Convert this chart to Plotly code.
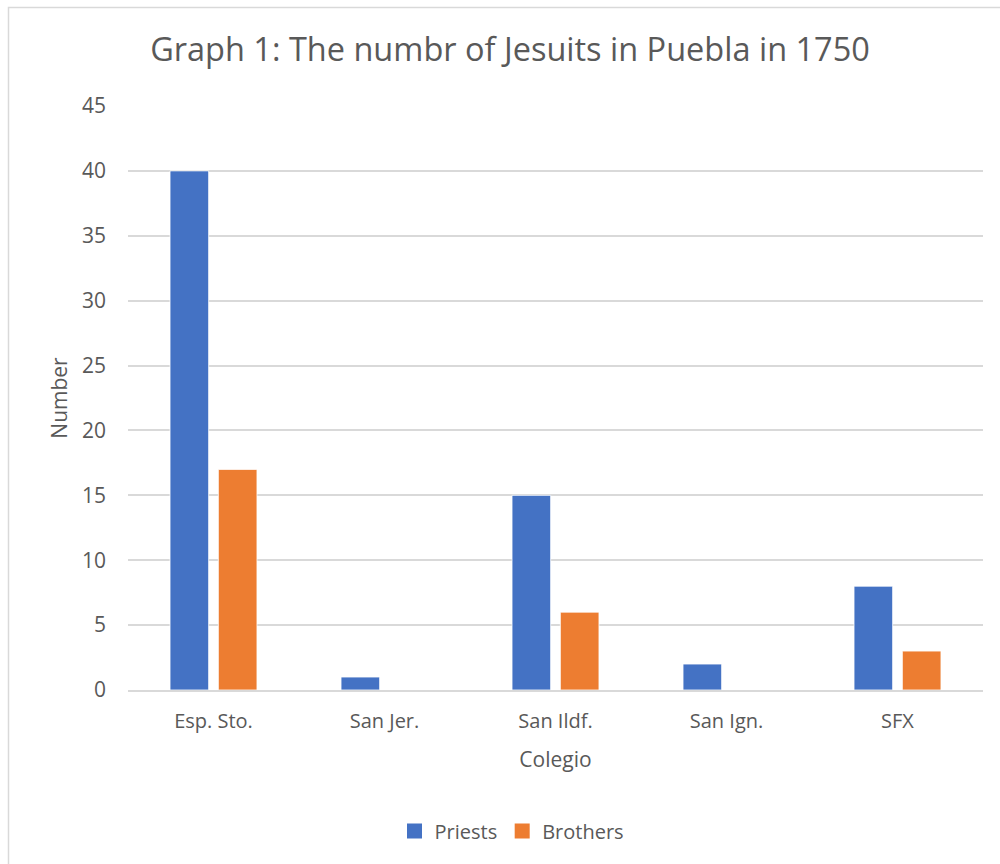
import plotly.graph_objects as go

categories = ["Esp. Sto.", "San Jer.", "San Ildf.", "San Ign.", "SFX"]
priests = [40, 1, 15, 2, 8]
brothers = [17, 0, 6, 0, 3]
y_ticks = [0, 5, 10, 15, 20, 25, 30, 35, 40, 45]
series_names = ["Priests", "Brothers"]
series_colors = ["#4472C4", "#ED7D31"]

FONT = "Open Sans"
TXT = "#595959"

fig = go.Figure()
for name, vals, col in zip(series_names, [priests, brothers], series_colors):
    fig.add_trace(go.Bar(x=categories, y=vals, name=name, showlegend=False,
                         legendgroup=name,
                         marker=dict(color=col, line=dict(color="white", width=0.8))))
# legend entries with larger square swatches
for name, col in zip(series_names, series_colors):
    fig.add_trace(go.Scatter(x=[None], y=[None], mode="markers", name=name,
                             legendgroup=name,
                             marker=dict(symbol="square", size=15, color=col)))

L, R, T, B = 128, 17, 106, 174
W, H = 1000, 864
pw, ph = W - L - R, H - T - B

def px2paper_x(px):
    return (px - L) / pw

def px2paper_y(py):
    return 1 - (py - T) / ph

fig.update_layout(
    width=W, height=H,
    margin=dict(l=L, r=R, t=T, b=B, pad=0),
    paper_bgcolor="white", plot_bgcolor="white",
    font=dict(family=FONT, color=TXT, size=20),
    title=dict(text="Graph 1: The numbr of Jesuits in Puebla in 1750",
               x=px2paper_x(510), xref="paper", xanchor="center",
               y=1 - 50 / H, yanchor="middle",
               font=dict(family=FONT, size=32.5, color=TXT)),
    barmode="group", bargap=0.435, bargroupgap=0.2,
    showlegend=True,
    legend=dict(orientation="h", x=px2paper_x(512), xanchor="center",
                y=px2paper_y(831), yanchor="middle",
                font=dict(family=FONT, size=20, color=TXT),
                itemwidth=30, traceorder="normal", tracegroupgap=0),
    xaxis=dict(title=dict(text="Colegio", font=dict(size=21, color=TXT), standoff=19),
               showgrid=False, showline=True, linecolor="#d9d9d9", linewidth=2,
               ticks="", ticklabelstandoff=12, tickfont=dict(size=20, color=TXT)),
    yaxis=dict(title=dict(text="Number", font=dict(size=21, color=TXT), standoff=8),
               range=[0, 45], tickvals=y_ticks, showgrid=True, gridcolor="#d9d9d9",
               gridwidth=1.5, zeroline=False, showline=False, ticks="",
               ticklabelstandoff=21, tickfont=dict(size=21, color=TXT)),
    shapes=[dict(type="rect", xref="paper", yref="paper",
                 x0=px2paper_x(8.5), x1=px2paper_x(1010),
                 y0=px2paper_y(880), y1=px2paper_y(7.5),
                 line=dict(color="#d9d9d9", width=1.5), fillcolor="rgba(0,0,0,0)",
                 layer="below")],
)

fig.write_html("out.html")
